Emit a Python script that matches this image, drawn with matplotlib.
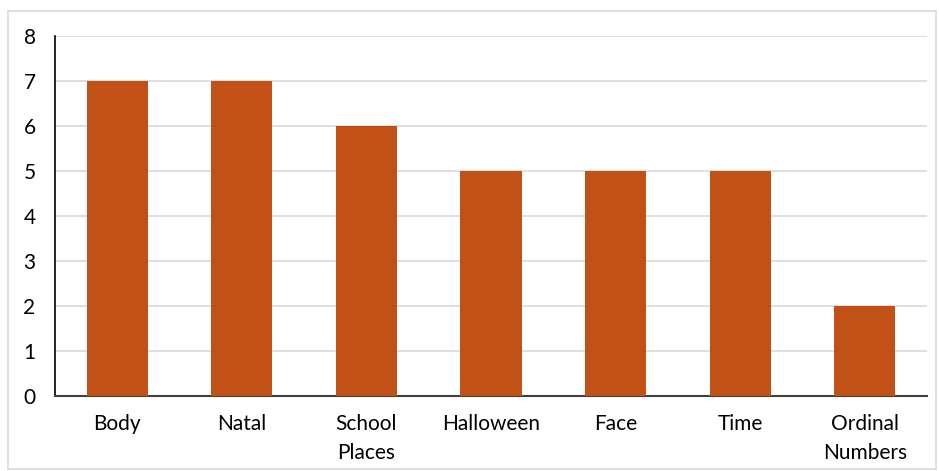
import matplotlib
matplotlib.use("Agg")
import matplotlib.pyplot as plt
from matplotlib.patches import Rectangle

categories = ["Body", "Natal", "School\nPlaces", "Halloween", "Face", "Time", "Ordinal\nNumbers"]
values = [7, 7, 6, 5, 5, 5, 2]
yticks = [0, 1, 2, 3, 4, 5, 6, 7, 8]

plt.rcParams['font.family'] = ['Lato', 'DejaVu Sans']

W, H = 939, 471
fig = plt.figure(figsize=(W / 100, H / 100), dpi=100)
ax = fig.add_axes([55 / W, 1 - 396 / H, (927 - 55) / W, (396 - 36) / H])

x = list(range(len(categories)))
ax.bar(x, values, width=0.49, color="#C25117", zorder=3)
ax.set_xlim(-0.5, len(categories) - 0.5)
ax.set_ylim(0, 8)
ax.set_yticks(yticks)
ax.set_xticks(x)
ax.set_xticklabels(categories, fontsize=15, linespacing=1.55)
ax.tick_params(axis='y', labelsize=15, length=0, pad=14)
ax.tick_params(axis='x', length=0, pad=13)
ax.grid(axis='y', color="#D9D9D9", linewidth=1.2, zorder=0)
for s in ['top', 'right']:
    ax.spines[s].set_visible(False)
ax.spines['left'].set_color('black')
ax.spines['left'].set_linewidth(1.2)
ax.spines['bottom'].set_color('#404040')
ax.spines['bottom'].set_linewidth(1.5)

fig.patches.append(Rectangle((8 / W, 1 - 469 / H), (936 - 8) / W, (469 - 11) / H,
                             transform=fig.transFigure, fill=False,
                             edgecolor="#D9D9D9", linewidth=1.2))

fig.savefig("out.png", dpi=100)
